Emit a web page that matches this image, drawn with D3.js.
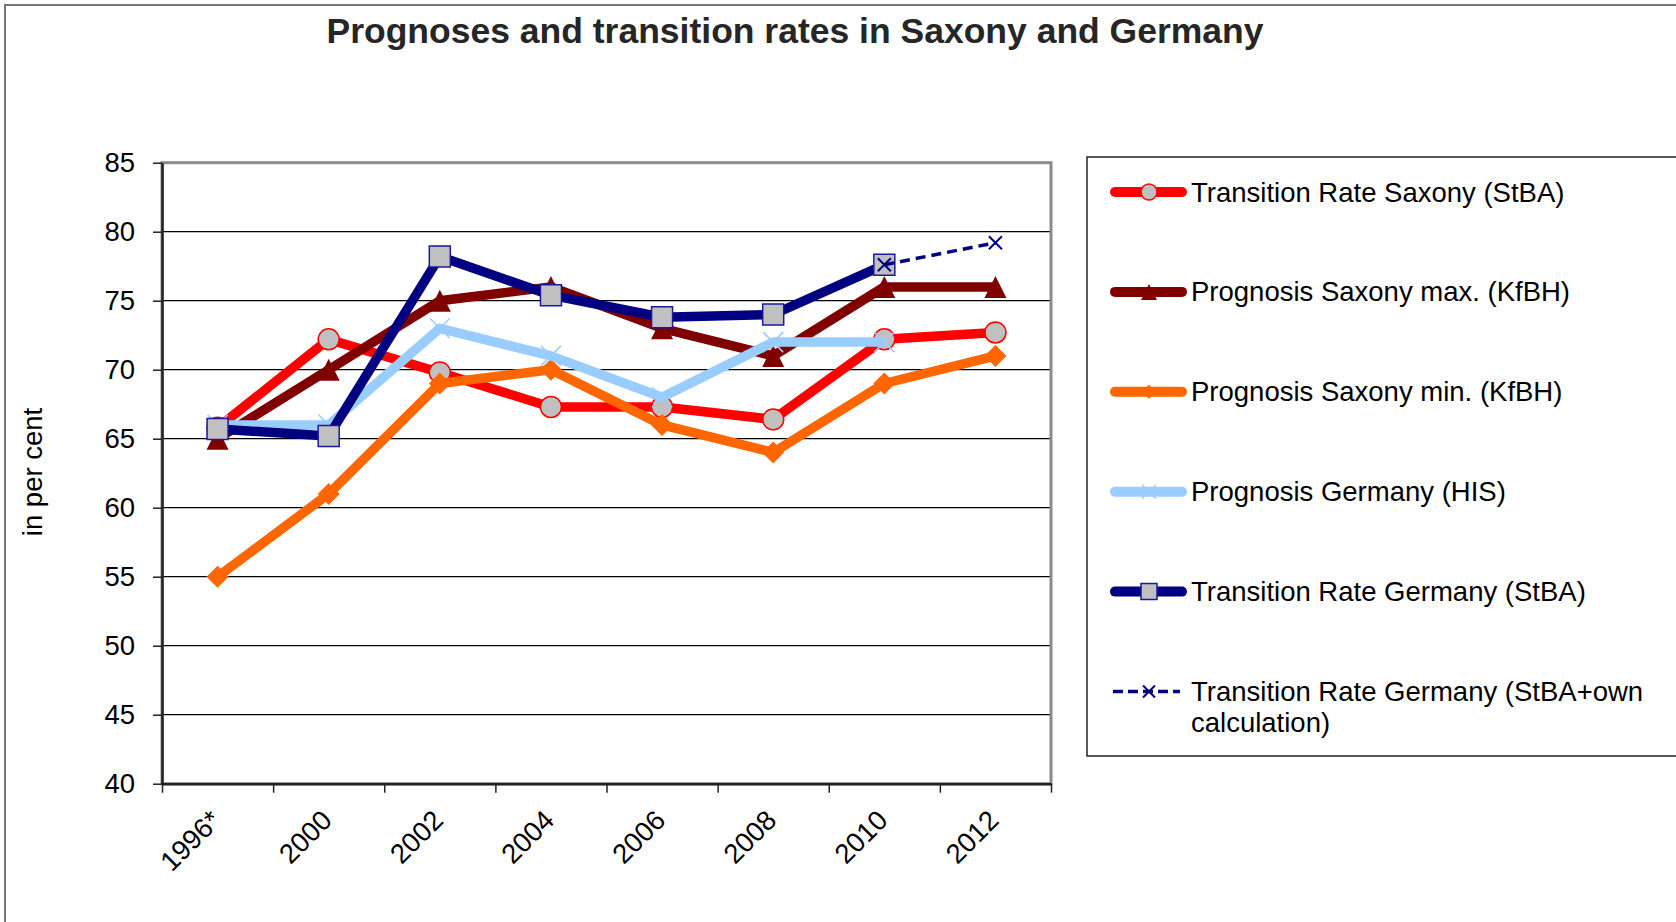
<!DOCTYPE html>
<html>
<head>
<meta charset="utf-8">
<script src="https://cdn.jsdelivr.net/npm/d3@7"></script>
<style>
  body { margin: 0; background: #fff; }
  text { font-family: Arial, "Liberation Sans", sans-serif; }
</style>
</head>
<body>
<svg id="chart" width="1676" height="922"></svg>
<script>
const categories = ["1996*", "2000", "2002", "2004", "2006", "2008", "2010", "2012"];
const rateSaxony = [65.8, 72.2, 69.8, 67.3, 67.3, 66.4, 72.2, 72.7];
const progSaxonyMax = [65, 70, 75, 76, 73, 71, 76, 76];
const progSaxonyMin = [55, 61, 69, 70, 66, 64, 69, 71];
const progGermany = [66, 66, 73, 71, 68, 72, 72, null];
const rateGermany = [65.7, 65.2, 78.2, 75.4, 73.8, 74.0, 77.6, null];
const rateGermanyOwn = [null, null, null, null, null, null, 77.6, 79.2];
const seriesNames = [
  "Transition Rate Saxony (StBA)",
  "Prognosis Saxony max. (KfBH)",
  "Prognosis Saxony min. (KfBH)",
  "Prognosis Germany (HIS)",
  "Transition Rate Germany (StBA)",
  ["Transition Rate Germany (StBA+own", "calculation)"]
];
const yTicks = [40, 45, 50, 55, 60, 65, 70, 75, 80, 85];
const title = "Prognoses and transition rates in Saxony and Germany";
const yLabel = "in per cent";

// marker shapes, size = full width
const shapes = {
  circle: { draw(c, s) { const r = s / 2; c.moveTo(r, 0); c.arc(0, 0, r, 0, 2 * Math.PI); } },
  triangle: { draw(c, s) { const h = s / 2; c.moveTo(0, -h); c.lineTo(h, h); c.lineTo(-h, h); c.closePath(); } },
  diamond: { draw(c, s) { const h = s / 2; c.moveTo(0, -h); c.lineTo(h, 0); c.lineTo(0, h); c.lineTo(-h, 0); c.closePath(); } },
  square: { draw(c, s) { const h = s / 2; c.rect(-h, -h, s, s); } },
  cross: { draw(c, s) { const h = s / 2; c.moveTo(-h, -h); c.lineTo(h, h); c.moveTo(h, -h); c.lineTo(-h, h); } }
};

const series = [
  { values: rateSaxony, color: "#ff0000", width: 9.5, shape: "circle", size: 21, lsize: 16, fill: "#c0c0c0", mstroke: "#ff0000", msw: 1.5 },
  { values: progSaxonyMax, color: "#800000", width: 9.5, shape: "triangle", size: 22, lsize: 16, fill: "#800000", mstroke: "none", msw: 0 },
  { values: progSaxonyMin, color: "#ff6600", width: 9.5, shape: "diamond", size: 22, lsize: 14, fill: "#ff6600", mstroke: "none", msw: 0 },
  { values: progGermany, color: "#99ccff", width: 9.5, shape: "cross", size: 20, lsize: 14, fill: "none", mstroke: "#99ccff", msw: 1.5 },
  { values: rateGermany, color: "#000080", width: 9.5, shape: "square", size: 21, lsize: 16, fill: "#c0c0c0", mstroke: "#1a1a99", msw: 1.5 },
  { values: rateGermanyOwn, color: "#000080", width: 3.5, dash: "10,6", shape: "cross", size: 13, lsize: 12, fill: "none", mstroke: "#000080", msw: 2 }
];
series.forEach((s, i) => s.name = seriesNames[i]);

const svg = d3.select("#chart");

// outer chart frame
svg.append("rect").attr("x", 5).attr("y", 5).attr("width", 1800).attr("height", 1000)
  .attr("fill", "#fff").attr("stroke", "#777").attr("stroke-width", 2);

svg.append("text").attr("x", 795).attr("y", 43).attr("text-anchor", "middle")
  .attr("font-size", 35.5).attr("font-weight", "bold").attr("fill", "#262626").text(title);

const x = d3.scaleBand(categories, [162, 1051]);
const xEdges = d3.scaleLinear([0, categories.length], [162, 1051]);
const y = d3.scaleLinear([40, 85], [783.7, 162.7]);

// gridlines
svg.append("g").selectAll("line").data(yTicks.filter(t => t > 40 && t < 85)).join("line")
  .attr("x1", 162).attr("x2", 1051).attr("y1", d => y(d)).attr("y2", d => y(d))
  .attr("stroke", "#000").attr("stroke-width", 1.3);

// plot area border
svg.append("rect").attr("x", 162).attr("y", y(85)).attr("width", 889).attr("height", y(40) - y(85))
  .attr("fill", "none").attr("stroke", "#8a8a8a").attr("stroke-width", 3);

const yAxis = svg.append("g").attr("transform", "translate(162,0)")
  .call(d3.axisLeft(y).tickValues(yTicks).tickSize(9).tickPadding(18).tickSizeOuter(0));
const xAxis = svg.append("g").attr("transform", `translate(0,${y(40)})`)
  .call(d3.axisBottom(xEdges).ticks(categories.length).tickSize(9).tickFormat("").tickSizeOuter(0));
[yAxis, xAxis].forEach(g => {
  g.select(".domain").attr("stroke", "#222").attr("stroke-width", 2.5);
  g.selectAll(".tick line").attr("stroke", "#222").attr("stroke-width", 1.5);
  g.selectAll(".tick text").attr("font-size", 27.5).attr("fill", "#000");
});

svg.append("g").selectAll("text").data(categories).join("text")
  .attr("transform", d => `translate(${x(d) + x.bandwidth() / 2 + 5},822) rotate(-45)`)
  .attr("text-anchor", "end").attr("font-size", 27.5).attr("fill", "#000").text(d => d);

svg.append("text").attr("transform", "translate(42,472) rotate(-90)").attr("text-anchor", "middle")
  .attr("font-size", 27.5).attr("fill", "#000").text(yLabel);

// series
const line = d3.line().defined(d => d != null)
  .x((d, i) => x(categories[i]) + x.bandwidth() / 2).y(d => y(d));

series.forEach(s => {
  const g = svg.append("g");
  g.append("path").attr("d", line(s.values)).attr("fill", "none")
    .attr("stroke", s.color).attr("stroke-width", s.width)
    .attr("stroke-linejoin", "round").attr("stroke-dasharray", s.dash || null);
  g.selectAll("path.m").data(s.values.map((v, i) => [i, v]).filter(d => d[1] != null)).join("path")
    .attr("class", "m")
    .attr("transform", d => `translate(${x(categories[d[0]]) + x.bandwidth() / 2},${y(d[1])})`)
    .attr("d", d3.symbol(shapes[s.shape], s.size))
    .attr("fill", s.fill).attr("stroke", s.mstroke).attr("stroke-width", s.msw);
});

// legend
const legend = svg.append("g");
legend.append("rect").attr("x", 1087).attr("y", 157).attr("width", 700).attr("height", 599)
  .attr("fill", "#fff").attr("stroke", "#222").attr("stroke-width", 1.5);

const item = legend.selectAll("g.item").data(series).join("g").attr("class", "item")
  .attr("transform", (d, i) => `translate(0,${192 + i * 99.9})`);
item.append("line")
  .attr("x1", d => d.dash ? 1113 : 1115).attr("x2", d => d.dash ? 1180 : 1182)
  .attr("stroke", d => d.color).attr("stroke-width", d => d.dash ? 3.5 : 10)
  .attr("stroke-linecap", d => d.dash ? "butt" : "round")
  .attr("stroke-dasharray", d => d.dash ? "10,5" : null);
item.append("path").attr("transform", "translate(1149,0)")
  .attr("d", d => d3.symbol(shapes[d.shape], d.lsize)())
  .attr("fill", d => d.fill).attr("stroke", d => d.mstroke).attr("stroke-width", d => d.msw);
const label = item.append("text").attr("x", 1191).attr("y", 9.5).attr("font-size", 27.5).attr("fill", "#000");
label.selectAll("tspan").data(d => Array.isArray(d.name) ? d.name : [d.name]).join("tspan")
  .attr("x", 1191).attr("dy", (d, i) => i ? 31 : 0).text(d => d);
</script>
</body>
</html>
